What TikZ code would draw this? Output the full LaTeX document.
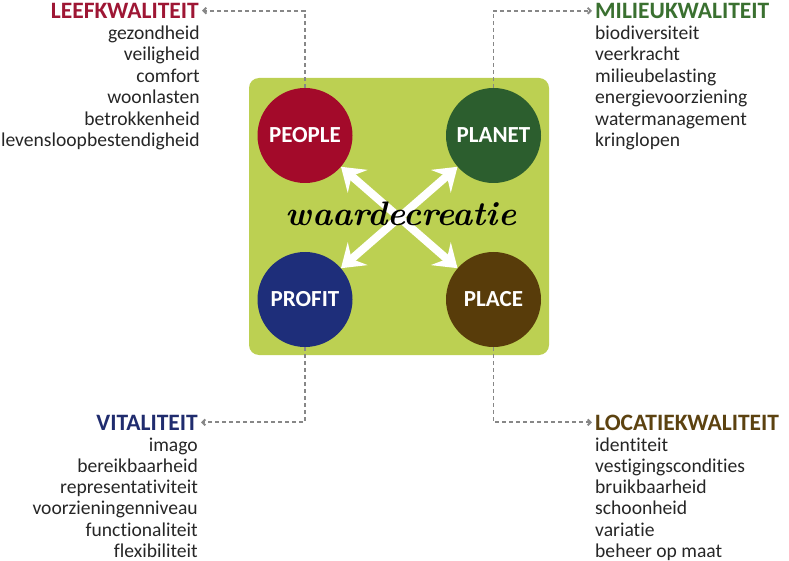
\documentclass[tikz,border=0pt]{standalone}
\usepackage{fontspec}
\setmainfont{Carlito}[Ligatures={NoCommon}]
\newfontfamily\wdfont{Latin Modern Roman}
\usetikzlibrary{arrows.meta}
\definecolor{boxgreen}{RGB}{188,208,82}
\definecolor{cpeople}{RGB}{163,10,42}
\definecolor{cplanet}{RGB}{44,94,46}
\definecolor{cprofit}{RGB}{30,46,122}
\definecolor{cplace}{RGB}{88,60,10}
\definecolor{hpeople}{RGB}{158,22,52}
\definecolor{hplanet}{RGB}{58,112,48}
\definecolor{hprofit}{RGB}{32,44,110}
\definecolor{hplace}{RGB}{92,66,16}
\definecolor{conngray}{RGB}{135,135,135}
\begin{document}
\begin{tikzpicture}[x=1pt,y=-1pt,
  panel/.style={fill=boxgreen, rounded corners=10pt, minimum width=300pt, minimum height=277pt, inner sep=0pt},
  circ/.style={circle, minimum size=95pt, inner sep=0pt, text=white, font=\fontsize{23}{23}\selectfont\bfseries},
  head/.style={inner sep=0pt, font=\fontsize{23.5}{23.5}\selectfont\bfseries},
  item/.style={inner sep=0pt, font=\fontsize{19.6}{21.5}\selectfont, text=black!85},
  conn/.style={draw=conngray, line width=1.9pt, dash pattern=on 4pt off 3pt, -{Straight Barb[length=3pt,width=6pt]}},
  bigarrow/.style={draw=white, line width=8pt, {Stealth[length=22pt,width=30pt,inset=8pt]}-{Stealth[length=22pt,width=30pt,inset=8pt]}}
]
\useasboundingbox (0,0) rectangle (789,561);

\node[panel] (box) at (399,216.5) {};

\node[circ, fill=cpeople] (people) at (305,135.5) {PEOPLE};
\node[circ, fill=cplanet] (planet) at (493.5,135.5) {PLANET};
\node[circ, fill=cprofit] (profit) at (305,299.5) {PROFIT};
\node[circ, fill=cplace]  (place)  at (493.5,299.5) {PLACE};

\draw[bigarrow] (people) -- (place);
\draw[bigarrow] (planet) -- (profit);

\node[font=\wdfont\fontsize{34}{34}\selectfont\bfseries\itshape] (wc) at (401,214) {waardecreatie};

% headings
\node[head, text=hpeople, anchor=base east] (lkh) at (199,18.3) {LEEFKWALITEIT};
\node[head, text=hplanet, anchor=base west] (mkh) at (595,18.3) {MILIEUKWALITEIT};
\node[head, text=hprofit, anchor=base east] (vth) at (198,430) {VITALITEIT};
\node[head, text=hplace,  anchor=base west] (lch) at (595,430) {LOCATIEKWALITEIT};

% items
\foreach \t [count=\i] in {gezondheid, veiligheid, comfort, woonlasten, betrokkenheid, levensloopbestendigheid}
  \node[item, anchor=base east] (lk\i) at (200,18+21.5*\i) {\t};
\foreach \t [count=\i] in {biodiversiteit, veerkracht, milieubelasting, energievoorziening, watermanagement, kringlopen}
  \node[item, anchor=base west] (mk\i) at (595,18+21.5*\i) {\t};
\foreach \t [count=\i] in {imago, bereikbaarheid, representativiteit, voorzieningenniveau, functionaliteit, flexibiliteit}
  \node[item, anchor=base east] (vt\i) at (198,430+21.2*\i) {\t};
\foreach \t [count=\i] in {identiteit, vestigingscondities, bruikbaarheid, schoonheid, variatie, beheer op maat}
  \node[item, anchor=base west] (lc\i) at (595,430+21.2*\i) {\t};

% connectors
\draw[conn] (people.north) |- ([xshift=3pt]lkh.east);
\draw[conn] (planet.north) |- ([xshift=-3pt]mkh.west);
\draw[conn] (profit.south) |- ([xshift=3pt]vth.east);
\draw[conn] (place.south)  |- ([xshift=-3pt]lch.west);
\end{tikzpicture}
\end{document}
